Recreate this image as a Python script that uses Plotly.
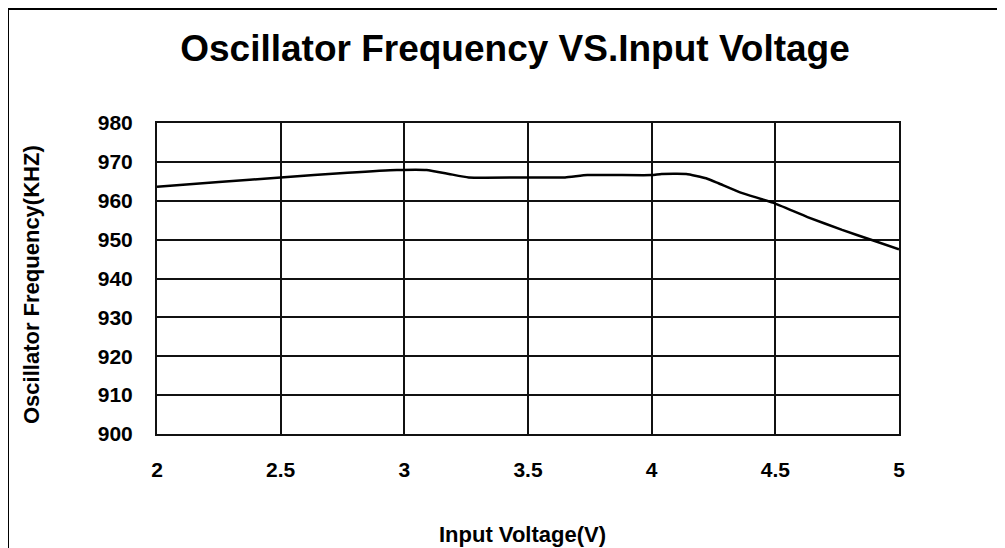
import plotly.graph_objects as go

voltage = [2.0, 2.25, 2.5, 2.77, 2.97, 3.09, 3.18, 3.26, 3.5, 3.65, 3.74, 4.0, 4.04,
           4.14, 4.22, 4.27, 4.36, 4.49, 4.63, 4.77, 4.89, 5.0]
frequency = [963.6, 964.8, 966.0, 967.2, 967.9, 967.9, 966.9, 966.0, 966.0, 966.0, 966.6,
             966.6, 966.9, 966.9, 965.8, 964.5, 962.1, 959.5, 955.8, 952.5, 949.9, 947.5]

x_ticks = [2, 2.5, 3, 3.5, 4, 4.5, 5]
y_ticks = [900, 910, 920, 930, 940, 950, 960, 970, 980]

title_text = "Oscillator Frequency VS.Input Voltage"
x_title = "Input Voltage(V)"
y_title = "Oscillator Frequency(KHZ)"

FONT = "Liberation Sans, Arial, sans-serif"

# the page body adds an 8px offset, so layout pixels are screen pixels minus 8
OFF = 8
L, R, T, B = 157, 899, 123, 434  # plot area on screen
W, H = 1005, 548

fig = go.Figure()
fig.add_trace(go.Scatter(x=voltage, y=frequency, mode="lines",
                         line=dict(color="black", width=2.5, shape="spline", smoothing=0.4),
                         showlegend=False, hoverinfo="x+y"))

fig.update_layout(
    width=W, height=H,
    margin=dict(l=L - OFF, r=W - (R - OFF), t=T - OFF, b=H - (B - OFF)),
    paper_bgcolor="white", plot_bgcolor="white",
    font=dict(family=FONT, color="black"),
    title=dict(text="<b>" + title_text + "</b>", x=(515 - OFF) / W, xanchor="center",
               y=1 - (48 - OFF) / H, yanchor="middle",
               font=dict(size=37, family=FONT, color="black")),
    xaxis=dict(range=[2, 5], tickvals=x_ticks, ticktext=[str(v) for v in x_ticks],
               showgrid=True, gridcolor="#111", gridwidth=1.5,
               showline=True, linecolor="#111", linewidth=2, mirror=True,
               zeroline=False, ticks="", ticklabelstandoff=16,
               tickfont=dict(size=21, family=FONT, color="black", weight="bold")),
    yaxis=dict(range=[900, 980], tickvals=y_ticks,
               showgrid=True, gridcolor="#111", gridwidth=1.5,
               showline=True, linecolor="#111", linewidth=2, mirror=True,
               zeroline=False, ticks="", ticklabelstandoff=18,
               tickfont=dict(size=21, family=FONT, color="black", weight="bold")),
    annotations=[
        dict(text="<b>" + x_title + "</b>", xref="paper", yref="paper",
             x=(522 - L) / (R - L), y=(B - 534) / (B - T), xanchor="center", yanchor="middle",
             showarrow=False, font=dict(size=22, family=FONT, color="black")),
        dict(text="<b>" + y_title + "</b>", xref="paper", yref="paper",
             x=(31 - L) / (R - L), y=(B - 285) / (B - T), xanchor="center", yanchor="middle",
             textangle=-90, showarrow=False, font=dict(size=22, family=FONT, color="black")),
    ],
    shapes=[
        dict(type="rect", xref="paper", yref="paper",
             x0=(8 - L) / (R - L), x1=(1030 - L) / (R - L),
             y0=(B - 570) / (B - T), y1=(B - 9) / (B - T),
             line=dict(color="black", width=2), fillcolor="rgba(0,0,0,0)", layer="below"),
    ],
)

fig.write_html("out.html")
